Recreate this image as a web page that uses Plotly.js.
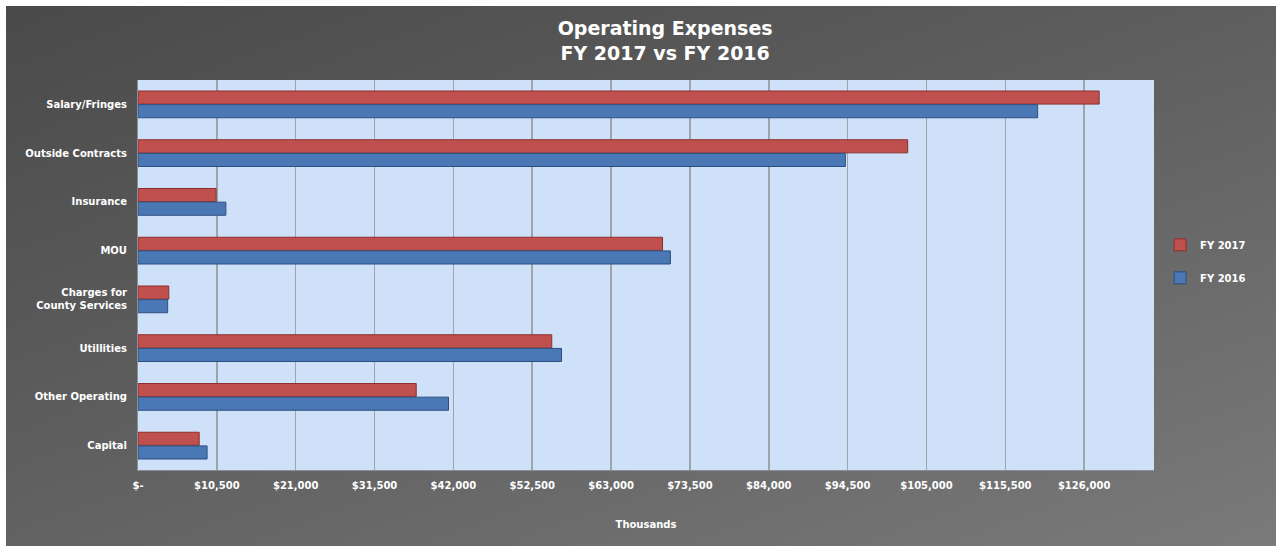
<!DOCTYPE html>
<html>
<head>
<meta charset="utf-8">
<script src="https://cdn.plot.ly/plotly-3.0.1.min.js"></script>
<style>
  html, body { margin: 0; padding: 0; background: #ffffff; }
  #wrap { position: absolute; left: 6px; top: 6px; width: 1270px; height: 540px;
          background: linear-gradient(160deg, #4a4a4a 0%, #5e5e5e 45%, #7a7a7a 100%); }
  #chart { width: 1270px; height: 540px; }
</style>
</head>
<body>
<div id="wrap"><div id="chart"></div></div>
<script>
const categories = ["Salary/Fringes", "Outside Contracts", "Insurance", "MOU",
  "Charges for<br>County Services", "Utillities", "Other Operating", "Capital"];
const fy2017 = [128000, 102500, 10400, 69850, 4100, 55100, 37050, 8150];
const fy2016 = [119800, 94200, 11700, 70900, 3950, 56400, 41350, 9200];
const tickValues = [0, 10500, 21000, 31500, 42000, 52500, 63000, 73500, 84000, 94500, 105000, 115500, 126000];
const tickLabels = ["$-", "$10,500", "$21,000", "$31,500", "$42,000", "$52,500", "$63,000", "$73,500",
  "$84,000", "$94,500", "$105,000", "$115,500", "$126,000"];

const txtFont = { family: "DejaVu Sans, Verdana, sans-serif", color: "#ffffff", size: 10, weight: "bold" };

const data = [
  {
    type: "bar", orientation: "h", name: "FY 2017",
    y: categories, x: fy2017,
    marker: { color: "#c0504d", line: { color: "#8c2f2d", width: 1 } },
    legendgroup: "a", hoverinfo: "x+name"
  },
  {
    type: "bar", orientation: "h", name: "FY 2016",
    y: categories, x: fy2016,
    marker: { color: "#4a78b4", line: { color: "#2c4f80", width: 1 } },
    legendgroup: "b", hoverinfo: "x+name"
  }
];

const layout = {
  width: 1270, height: 540,
  paper_bgcolor: "rgba(0,0,0,0)",
  plot_bgcolor: "#cfe1f8",
  margin: { l: 132, r: 122, t: 74, b: 76 },
  barmode: "group",
  bargap: 0.44,
  bargroupgap: 0.04,
  showlegend: true,
  title: {
    text: "Operating Expenses<br>FY 2017 vs FY 2016",
    x: 0.519, xanchor: "center", y: 0.946, yanchor: "top",
    font: { family: "DejaVu Sans, Verdana, sans-serif", size: 19, color: "#ffffff", weight: "bold" }
  },
  xaxis: {
    range: [0, 135300],
    tickmode: "array", tickvals: tickValues, ticktext: tickLabels,
    showgrid: true, gridcolor: "#9ea4ab", gridwidth: 1.5,
    zeroline: false, showline: true, linecolor: "#8a8f96", linewidth: 1,
    ticks: "", tickfont: txtFont, ticklabelstandoff: 6,
    title: { text: "Thousands", font: txtFont, standoff: 30 },
    fixedrange: true
  },
  yaxis: {
    type: "category", autorange: "reversed",
    showgrid: false, zeroline: false, showline: true, linecolor: "#8a8f96", linewidth: 1,
    ticks: "", tickfont: txtFont, ticklabelstandoff: 8,
    fixedrange: true
  },
  legend: {
    x: 1.006, xanchor: "left", y: 0.535, yanchor: "middle",
    bgcolor: "rgba(0,0,0,0)", borderwidth: 0,
    font: txtFont, traceorder: "grouped", tracegroupgap: 14,
    itemwidth: 30
  }
};

Plotly.newPlot("chart", data, layout, { displayModeBar: false, staticPlot: true });
</script>
</body>
</html>
